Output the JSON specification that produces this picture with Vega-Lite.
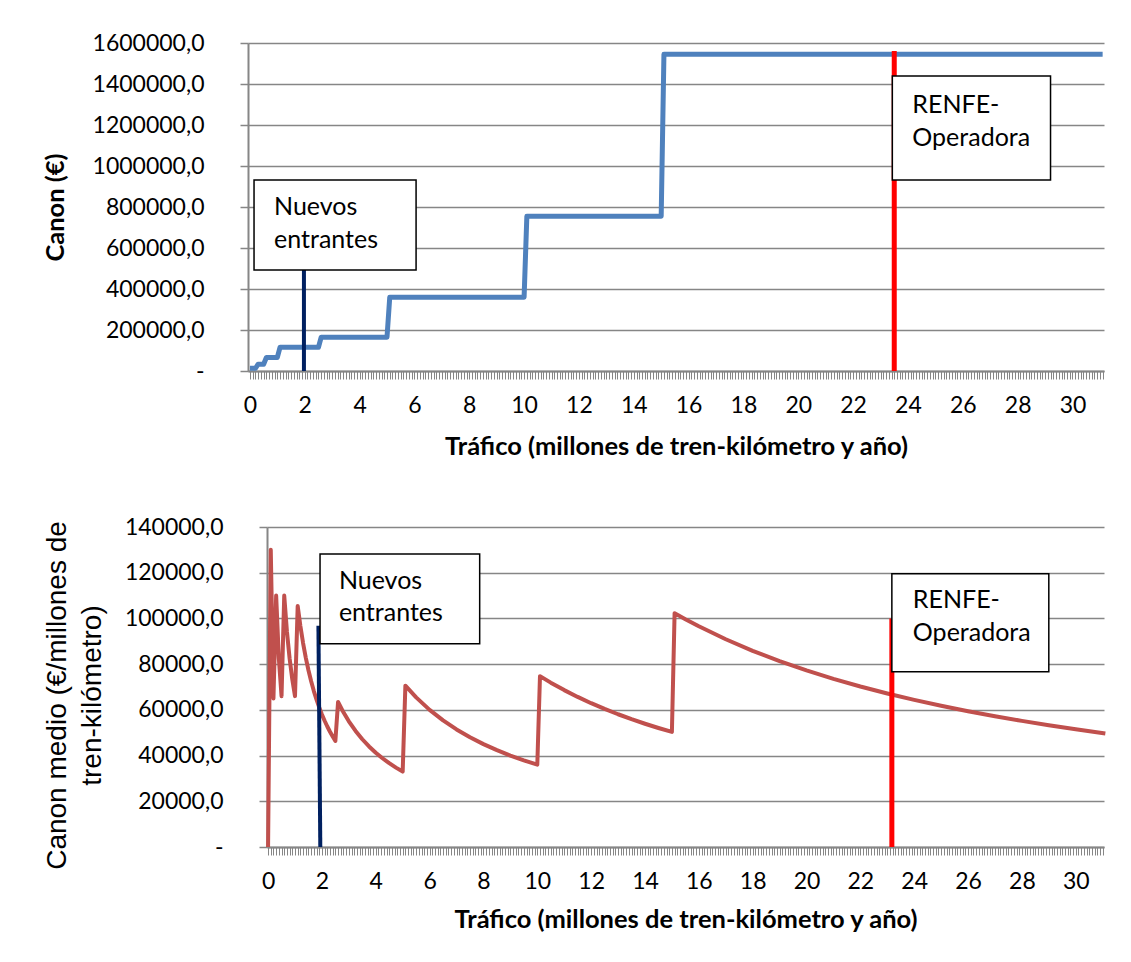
{
  "$schema": "https://vega.github.io/schema/vega-lite/v6.json",
  "padding": {"left": 36, "top": 32, "right": 0, "bottom": 0},
  "background": "white",
  "spacing": 56,
  "config": {"view": {"stroke": null}},
  "vconcat": [
    {"spacing": 0, "hconcat": [
    {"width": 1, "height": 1, "data": {"values": [{}]}, "mark": {"type": "point", "opacity": 0}, "encoding": {}},
    {
      "width": 856,
      "height": 328,
      "layer": [
        {
          "data": {"values": [
            {"trafico": 0, "valor": 13000},
            {"trafico": 0.2, "valor": 13000},
            {"trafico": 0.3, "valor": 33000},
            {"trafico": 0.5, "valor": 33000},
            {"trafico": 0.6, "valor": 66000},
            {"trafico": 1.0, "valor": 66000},
            {"trafico": 1.1, "valor": 116000},
            {"trafico": 2.5, "valor": 116000},
            {"trafico": 2.6, "valor": 165000},
            {"trafico": 5.0, "valor": 165000},
            {"trafico": 5.1, "valor": 360000},
            {"trafico": 10.0, "valor": 360000},
            {"trafico": 10.1, "valor": 755000},
            {"trafico": 15.0, "valor": 755000},
            {"trafico": 15.1, "valor": 1545000},
            {"trafico": 31.1, "valor": 1545000}
          ]},
          "mark": {"type": "line", "color": "#4F81BD", "strokeWidth": 5, "strokeJoin": "round"},
          "encoding": {
            "x": {"field": "trafico", "type": "quantitative",
              "scale": {"domain": [-0.07, 31.15], "nice": false, "zero": false},
              "axis": {"title": "Tráfico (millones de tren-kilómetro y año)", "tickCount": 320,
                "labelExpr": "abs(datum.value/2 - round(datum.value/2)) < 0.001 ? format(datum.value, 'd') : ''",
                "labelOverlap": false, "labelFlush": false, "grid": false,
                "domainColor": "#868686", "domainWidth": 2, "tickColor": "#868686", "tickSize": 8, "tickWidth": 1,
                "labelPadding": 15, "labelFont": "Lato", "labelFontSize": 23, "labelColor": "#000000",
                "titleFont": "Lato", "titleFontSize": 25.5, "titleFontWeight": "bold", "titleColor": "#000000", "titlePadding": 17}},
            "y": {"field": "valor", "type": "quantitative",
              "scale": {"domain": [0, 1600000], "nice": false},
              "axis": {"title": "Canon (€)", "values": [0, 200000, 400000, 600000, 800000, 1000000, 1200000, 1400000, 1600000],
                "labelExpr": "datum.value === 0 ? '-   ' : replace(format(datum.value, '.1f'), '.', ',')",
                "grid": true, "gridColor": "#868686", "gridWidth": 1.5,
                "domainColor": "#868686", "domainWidth": 2, "tickColor": "#868686", "tickSize": 8, "tickWidth": 1.5,
                "labelPadding": 36, "labelFont": "Lato", "labelFontSize": 23, "labelColor": "#000000",
                "titleFont": "Lato", "titleFontSize": 25.5, "titleFontWeight": "bold", "titleColor": "#000000", "titlePadding": 24}}
          }
        },
        {
          "data": {"values": [{"trafico": 1.97, "valor": 0, "valor2": 600000}]},
          "mark": {"type": "rule", "color": "#002060", "strokeWidth": 4},
          "encoding": {"x": {"field": "trafico", "type": "quantitative"}, "y": {"field": "valor", "type": "quantitative"}, "y2": {"field": "valor2"}}
        },
        {
          "data": {"values": [{"trafico": 23.5, "valor": 0, "valor2": 1561000}]},
          "mark": {"type": "rule", "color": "#FF0000", "strokeWidth": 5},
          "encoding": {"x": {"field": "trafico", "type": "quantitative"}, "y": {"field": "valor", "type": "quantitative"}, "y2": {"field": "valor2"}}
        },
        {
          "data": {"values": [
            {"trafico": 0.15, "trafico2": 6.06, "valor": 931700, "valor2": 492700},
            {"trafico": 23.43, "trafico2": 29.2, "valor": 1439000, "valor2": 931700}
          ]},
          "mark": {"type": "rect", "fill": "white", "stroke": "black", "strokeWidth": 1.5},
          "encoding": {"x": {"field": "trafico", "type": "quantitative"}, "x2": {"field": "trafico2"}, "y": {"field": "valor", "type": "quantitative"}, "y2": {"field": "valor2"}}
        },
        {
          "data": {"values": [
            {"trafico": 0.88, "valor": 800000, "texto": "Nuevos"},
            {"trafico": 0.88, "valor": 639000, "texto": "entrantes"},
            {"trafico": 24.16, "valor": 1297600, "texto": "RENFE-"},
            {"trafico": 24.16, "valor": 1136600, "texto": "Operadora"}
          ]},
          "mark": {"type": "text", "align": "left", "baseline": "middle", "font": "Lato", "fontSize": 25, "color": "#000000"},
          "encoding": {"x": {"field": "trafico", "type": "quantitative"}, "y": {"field": "valor", "type": "quantitative"}, "text": {"field": "texto"}}
        }
      ]
    }]},
    {"spacing": 0, "hconcat": [
    {"width": 1, "height": 1, "data": {"values": [{}]}, "mark": {"type": "point", "opacity": 0}, "encoding": {}},
    {
      "width": 837,
      "height": 320,
      "layer": [
        {
          "data": {"values": [
            {"trafico": 0, "valor": 0},
            {"trafico": 0.1, "valor": 130000},
            {"trafico": 0.2, "valor": 65000},
            {"trafico": 0.3, "valor": 110000},
            {"trafico": 0.4, "valor": 82500},
            {"trafico": 0.5, "valor": 66000},
            {"trafico": 0.6, "valor": 110000},
            {"trafico": 0.7, "valor": 94286},
            {"trafico": 0.8, "valor": 82500},
            {"trafico": 0.9, "valor": 73333},
            {"trafico": 1.0, "valor": 66000},
            {"trafico": 1.1, "valor": 105455},
            {"trafico": 1.2, "valor": 96667},
            {"trafico": 1.3, "valor": 89231},
            {"trafico": 1.4, "valor": 82857},
            {"trafico": 1.5, "valor": 77333},
            {"trafico": 1.6, "valor": 72500},
            {"trafico": 1.7, "valor": 68235},
            {"trafico": 1.8, "valor": 64444},
            {"trafico": 1.9, "valor": 61053},
            {"trafico": 2.0, "valor": 58000},
            {"trafico": 2.1, "valor": 55238},
            {"trafico": 2.2, "valor": 52727},
            {"trafico": 2.3, "valor": 50435},
            {"trafico": 2.4, "valor": 48333},
            {"trafico": 2.5, "valor": 46400},
            {"trafico": 2.6, "valor": 63462},
            {"trafico": 2.8, "valor": 58929},
            {"trafico": 3.0, "valor": 55000},
            {"trafico": 3.25, "valor": 50769},
            {"trafico": 3.5, "valor": 47143},
            {"trafico": 3.75, "valor": 44000},
            {"trafico": 4.0, "valor": 41250},
            {"trafico": 4.25, "valor": 38824},
            {"trafico": 4.5, "valor": 36667},
            {"trafico": 4.75, "valor": 34737},
            {"trafico": 5.0, "valor": 33000},
            {"trafico": 5.1, "valor": 70588},
            {"trafico": 5.5, "valor": 65455},
            {"trafico": 6.0, "valor": 60000},
            {"trafico": 6.5, "valor": 55385},
            {"trafico": 7.0, "valor": 51429},
            {"trafico": 7.5, "valor": 48000},
            {"trafico": 8.0, "valor": 45000},
            {"trafico": 8.5, "valor": 42353},
            {"trafico": 9.0, "valor": 40000},
            {"trafico": 9.5, "valor": 37895},
            {"trafico": 10.0, "valor": 36000},
            {"trafico": 10.1, "valor": 74752},
            {"trafico": 10.5, "valor": 71905},
            {"trafico": 11.0, "valor": 68636},
            {"trafico": 11.5, "valor": 65652},
            {"trafico": 12.0, "valor": 62917},
            {"trafico": 12.5, "valor": 60400},
            {"trafico": 13.0, "valor": 58077},
            {"trafico": 13.5, "valor": 55926},
            {"trafico": 14.0, "valor": 53929},
            {"trafico": 14.5, "valor": 52069},
            {"trafico": 15.0, "valor": 50333},
            {"trafico": 15.1, "valor": 102318},
            {"trafico": 15.5, "valor": 99677},
            {"trafico": 16.0, "valor": 96563},
            {"trafico": 17.0, "valor": 90882},
            {"trafico": 18.0, "valor": 85833},
            {"trafico": 19.0, "valor": 81316},
            {"trafico": 20.0, "valor": 77250},
            {"trafico": 21.0, "valor": 73571},
            {"trafico": 22.0, "valor": 70227},
            {"trafico": 23.0, "valor": 67174},
            {"trafico": 24.0, "valor": 64375},
            {"trafico": 25.0, "valor": 61800},
            {"trafico": 26.0, "valor": 59423},
            {"trafico": 27.0, "valor": 57222},
            {"trafico": 28.0, "valor": 55179},
            {"trafico": 29.0, "valor": 53276},
            {"trafico": 30.0, "valor": 51500},
            {"trafico": 31.1, "valor": 49678}
          ]},
          "mark": {"type": "line", "color": "#C0504D", "strokeWidth": 4, "strokeJoin": "round"},
          "encoding": {
            "x": {"field": "trafico", "type": "quantitative",
              "scale": {"domain": [-0.04, 31.05], "nice": false, "zero": false},
              "axis": {"title": "Tráfico (millones de tren-kilómetro y año)", "tickCount": 320,
                "labelExpr": "abs(datum.value/2 - round(datum.value/2)) < 0.001 ? format(datum.value, 'd') : ''",
                "labelOverlap": false, "labelFlush": false, "grid": false,
                "domainColor": "#868686", "domainWidth": 2, "tickColor": "#868686", "tickSize": 8, "tickWidth": 1,
                "labelPadding": 15, "labelFont": "Lato", "labelFontSize": 23, "labelColor": "#000000",
                "titleFont": "Lato", "titleFontSize": 25.5, "titleFontWeight": "bold", "titleColor": "#000000", "titlePadding": 14}},
            "y": {"field": "valor", "type": "quantitative",
              "scale": {"domain": [0, 140000], "nice": false},
              "axis": {"title": ["Canon medio (€/millones de", "tren-kilómetro)"], "values": [0, 20000, 40000, 60000, 80000, 100000, 120000, 140000],
                "labelExpr": "datum.value === 0 ? '-   ' : replace(format(datum.value, '.1f'), '.', ',')",
                "grid": true, "gridColor": "#868686", "gridWidth": 1.5,
                "domainColor": "#868686", "domainWidth": 2, "tickColor": "#868686", "tickSize": 8, "tickWidth": 1.5,
                "labelPadding": 36, "labelFont": "Lato", "labelFontSize": 23, "labelColor": "#000000",
                "titleFont": "Liberation Sans", "titleFontSize": 28, "titleFontWeight": "normal", "titleColor": "#000000",
                "titlePadding": 18, "titleLineHeight": 35, "titleY": 168}}
          }
        },
        {
          "data": {"values": [{"trafico": 1.87, "trafico2": 1.94, "valor": 96800, "valor2": 0}]},
          "mark": {"type": "rule", "color": "#002060", "strokeWidth": 4},
          "encoding": {"x": {"field": "trafico", "type": "quantitative"}, "x2": {"field": "trafico2"}, "y": {"field": "valor", "type": "quantitative"}, "y2": {"field": "valor2"}}
        },
        {
          "data": {"values": [{"trafico": 23.17, "valor": 0, "valor2": 100000}]},
          "mark": {"type": "rule", "color": "#FF0000", "strokeWidth": 5},
          "encoding": {"x": {"field": "trafico", "type": "quantitative"}, "y": {"field": "valor", "type": "quantitative"}, "y2": {"field": "valor2"}}
        },
        {
          "data": {"values": [
            {"trafico": 1.93, "trafico2": 7.86, "valor": 128200, "valor2": 88900},
            {"trafico": 23.17, "trafico2": 29.0, "valor": 119500, "valor2": 76700}
          ]},
          "mark": {"type": "rect", "fill": "white", "stroke": "black", "strokeWidth": 1.5},
          "encoding": {"x": {"field": "trafico", "type": "quantitative"}, "x2": {"field": "trafico2"}, "y": {"field": "valor", "type": "quantitative"}, "y2": {"field": "valor2"}}
        },
        {
          "data": {"values": [
            {"trafico": 2.63, "valor": 116400, "texto": "Nuevos"},
            {"trafico": 2.63, "valor": 102500, "texto": "entrantes"},
            {"trafico": 23.95, "valor": 108200, "texto": "RENFE-"},
            {"trafico": 23.95, "valor": 93800, "texto": "Operadora"}
          ]},
          "mark": {"type": "text", "align": "left", "baseline": "middle", "font": "Lato", "fontSize": 25, "color": "#000000"},
          "encoding": {"x": {"field": "trafico", "type": "quantitative"}, "y": {"field": "valor", "type": "quantitative"}, "text": {"field": "texto"}}
        }
      ]
    }]}
  ]
}
